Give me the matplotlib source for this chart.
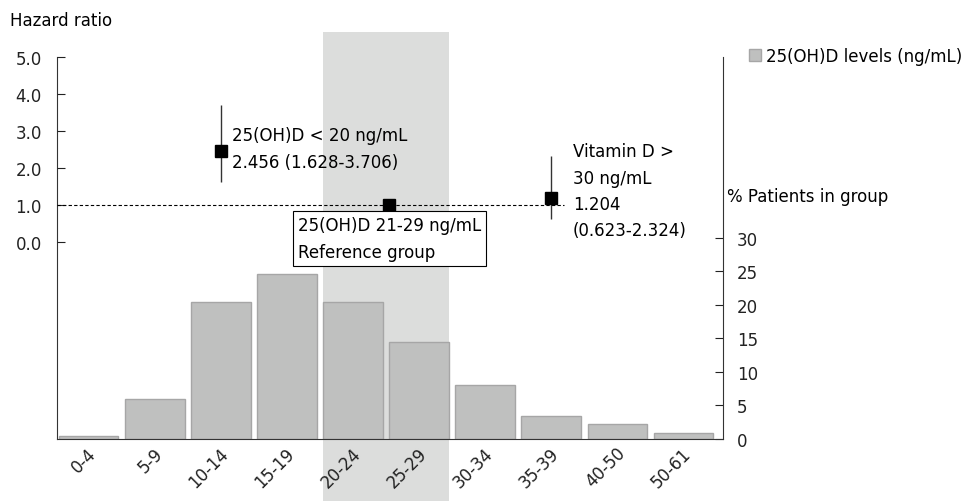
import numpy as np
import matplotlib
matplotlib.use("Agg")
from matplotlib import pyplot as plt
from matplotlib import transforms

# histogram of 25(OH)D levels
groups = ["0-4", "5-9", "10-14", "15-19", "20-24", "25-29",
          "30-34", "35-39", "40-50", "50-61"]
pct_patients = [0.5, 6.0, 20.5, 24.6, 20.4, 14.4, 8.0, 3.4, 2.2, 0.85]

# hazard ratios (position on category axis)
hr_pos = [2.0, 4.55, 7.0]
hr_val = [2.456, 1.0, 1.204]
hr_low = [1.628, 1.0, 0.623]
hr_high = [3.706, 1.0, 2.324]

ref_band = (3.55, 5.45)
ref_line_end = 7.2

plt.rcParams['font.family'] = ['DejaVu Sans']
FS = 12

fig = plt.figure(figsize=(9.65, 5.02), dpi=100)
ax = fig.add_axes([57 / 965, 62 / 502, 666 / 965, 382 / 502])
ax_hr = ax.twinx()

x = np.arange(len(groups))

# reference band, runs past the axes
ax.axvspan(ref_band[0], ref_band[1], ymin=-0.165, ymax=1.066,
           color='#dcdddc', zorder=0.5, clip_on=False, lw=0)

bars = ax.bar(x, pct_patients, width=0.9, color='#bfc0bf',
              edgecolor='#a6a6a6', linewidth=1, zorder=2,
              label='25(OH)D levels (ng/mL)')

ax.set_xlim(-0.48, 9.6)
ax.set_ylim(0, 57)
ax.set_yticks(range(0, 31, 5))
ax.yaxis.tick_right()
ax.tick_params(axis='y', direction='in', length=6, pad=10, labelsize=FS,
               colors='#222222')
ax.set_xticks(x)
ax.set_xticklabels(groups, rotation=45, ha='right', va='center',
                   rotation_mode='anchor', fontsize=FS, color='#222222')
ax.tick_params(axis='x', length=0, pad=8)
offset = transforms.ScaledTranslation(5 / 100, 0, fig.dpi_scale_trans)
for lab in ax.get_xticklabels():
    lab.set_transform(lab.get_transform() + offset)

ax.spines['top'].set_visible(False)
for s in ['left', 'right', 'bottom']:
    ax.spines[s].set_color('#333333')

# hazard ratio axis on the left
ax_hr.set_ylim(-5.32, 5.0)
ax_hr.set_yticks(np.arange(0, 5.1, 1.0))
ax_hr.set_yticklabels(["%.1f" % v for v in np.arange(0, 5.1, 1.0)])
ax_hr.yaxis.set_ticks_position('left')
ax_hr.yaxis.set_label_position('left')
ax_hr.tick_params(axis='y', direction='in', length=6, pad=11, labelsize=FS,
                  colors='#222222')
for s in ax_hr.spines.values():
    s.set_visible(False)

ax_hr.hlines(1.0, -0.48, ref_line_end, colors='black', linestyles=(0, (3, 2)),
             linewidth=0.8, zorder=2)
yerr = [np.array(hr_val) - np.array(hr_low), np.array(hr_high) - np.array(hr_val)]
ax_hr.errorbar(hr_pos, hr_val, yerr=yerr, fmt='none', ecolor='#333333',
               elinewidth=1, capsize=0, zorder=3)
ax_hr.plot(hr_pos, hr_val, 's', color='black', markersize=9, zorder=4)

ax_hr.text(2.17, 3.13, "25(OH)D < 20 ng/mL\n2.456 (1.628-3.706)",
           fontsize=FS, ha='left', va='top', linespacing=1.6)
ax_hr.text(3.17, 0.7, "25(OH)D 21-29 ng/mL\nReference group",
           fontsize=FS, ha='left', va='top', linespacing=1.65,
           bbox=dict(boxstyle='square,pad=0.3', fc='white', ec='black', lw=0.8),
           zorder=5)
ax_hr.text(7.33, 2.7, "Vitamin D >\n30 ng/mL\n1.204\n(0.623-2.324)",
           fontsize=FS, ha='left', va='top', linespacing=1.6)

fig.text(10 / 965, 1 - 21 / 502, "Hazard ratio", fontsize=FS,
         ha='left', va='center')
fig.text(727 / 965, 1 - 197 / 502, "% Patients in group", fontsize=FS,
         ha='left', va='center')

fig.legend(handles=[bars], loc='center left',
           bbox_to_anchor=(749 / 965, 1 - 57 / 502), frameon=False,
           fontsize=FS, handlelength=0.7, handleheight=0.7,
           handletextpad=0.35, borderpad=0, borderaxespad=0)

fig.savefig("out.png", dpi=100)
